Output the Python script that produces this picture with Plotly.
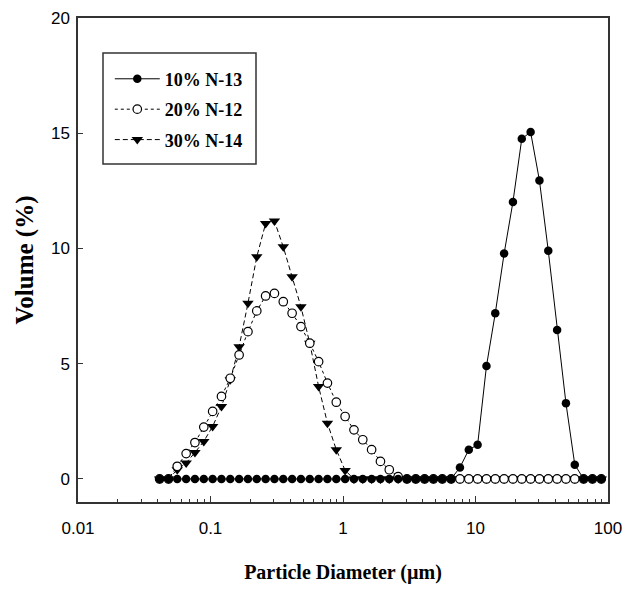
import plotly.graph_objects as go

# Particle diameter grid (µm)
diameter = [0.0413, 0.0482, 0.0561, 0.0655, 0.0763, 0.0890, 0.1038, 0.1210, 0.1410, 0.1644,
            0.1917, 0.2235, 0.2606, 0.3038, 0.3542, 0.4130, 0.4815, 0.5614, 0.6546, 0.7632,
            0.8899, 1.0375, 1.210, 1.410, 1.644, 1.917, 2.235, 2.606, 3.038, 3.542,
            4.130, 4.815, 5.614, 6.546, 7.632, 8.899, 10.375, 12.10, 14.10, 16.44,
            19.17, 22.35, 26.06, 30.38, 35.42, 41.30, 48.15, 56.14, 65.46, 76.32, 88.99]

vol_10_N13 = [0]*34 + [0.50, 1.27, 1.48, 4.90, 7.19, 9.78, 12.02, 14.76, 15.05, 12.95,
                       9.90, 6.46, 3.29, 0.62] + [0]*3
vol_20_N12 = [0]*2 + [0.55, 1.10, 1.58, 2.25, 2.93, 3.58, 4.37, 5.38, 6.39, 7.29,
                      7.94, 8.05, 7.69, 7.19, 6.61, 5.89, 5.09, 4.16, 3.33, 2.71,
                      2.13, 1.70, 1.27, 0.76, 0.40, 0.10] + [0]*23
vol_30_N14 = [0]*2 + [0.40, 0.69, 1.15, 1.63, 2.28, 3.14, 4.30, 5.74, 7.62, 9.64,
                      11.08, 11.19, 10.07, 8.77, 7.47, 5.89, 4.01, 2.42, 1.27, 0.37] + [0]*29

series_names = ["10% N-13", "20% N-12", "30% N-14"]
x_tick_vals = [0.01, 0.1, 1, 10, 100]
x_tick_text = ["0.01", "0.1", "1", "10", "100"]
y_tick_vals = [0, 5, 10, 15, 20]

minor_vals = [m * 10**e for e in range(-2, 2) for m in range(2, 10)]

fig = go.Figure()

# drawn bottom to top: 30%, 20%, 10%
fig.add_trace(go.Scatter(
    x=diameter, y=vol_30_N14, name=series_names[2], mode="lines+markers",
    line=dict(color="black", width=1, dash="5px,3px"),
    marker=dict(symbol="triangle-down", size=10, color="black"),
    legendrank=3, legendgroup="c"))
fig.add_trace(go.Scatter(
    x=diameter, y=vol_20_N12, name=series_names[1], mode="lines+markers",
    line=dict(color="black", width=1, dash="dot"),
    marker=dict(symbol="circle", size=8.5, color="white", line=dict(color="black", width=1.2)),
    legendrank=2, legendgroup="b"))
fig.add_trace(go.Scatter(
    x=diameter, y=vol_10_N13, name=series_names[0], mode="lines+markers",
    line=dict(color="black", width=1),
    marker=dict(symbol="circle", size=8.5, color="black"),
    legendrank=1, legendgroup="a"))

axis_font = dict(family="Liberation Sans, Arial", size=17, color="black")
serif = "Liberation Serif, Times New Roman"

# the page body has an 8px margin, so the figure is 8px smaller and margins shifted
fig.update_layout(
    width=626, height=581,
    margin=dict(l=70, r=26, t=10, b=87),
    paper_bgcolor="white", plot_bgcolor="white",
    showlegend=True,
    legend=dict(
        x=0.06, y=0.912, xanchor="left", yanchor="top",
        bgcolor="rgba(0,0,0,0)", borderwidth=0,
        font=dict(family=serif, size=18, color="black", weight="bold"),
        traceorder="grouped", tracegroupgap=4, itemwidth=45,
    ),
    xaxis=dict(
        type="log", range=[-2, 2], automargin=False,
        tickvals=x_tick_vals, ticktext=x_tick_text,
        ticks="inside", ticklen=6, tickwidth=1, tickcolor="#333",
        ticklabelstandoff=10,
        showline=True, linecolor="#333", linewidth=1.5, mirror=True,
        showgrid=False, zeroline=False,
        tickfont=axis_font,
        minor=dict(tickvals=minor_vals, ticks="inside", ticklen=3, tickwidth=1,
                   tickcolor="#333", showgrid=False),
        title=dict(text="<b>Particle Diameter (µm)</b>",
                   font=dict(family=serif, size=20, color="black"), standoff=28),
    ),
    yaxis=dict(
        range=[-1, 20], tickvals=y_tick_vals, automargin=False,
        ticks="inside", ticklen=5, tickwidth=1, tickcolor="#333",
        showline=True, linecolor="#333", linewidth=1.5, mirror=True,
        showgrid=False, zeroline=False,
        tickfont=axis_font,
        ticklabelstandoff=3,
        title=dict(text="<b>Volume (%)</b>",
                   font=dict(family=serif, size=25, color="black"), standoff=10),
    ),
    shapes=[dict(type="rect", xref="paper", yref="paper",
                 x0=(103 - 78) / 530, x1=(256 - 78) / 530,
                 y0=(502 - 164) / 484, y1=(502 - 53) / 484,
                 line=dict(color="#333", width=1.5), fillcolor="rgba(0,0,0,0)")],
)

fig.write_html("out.html")
